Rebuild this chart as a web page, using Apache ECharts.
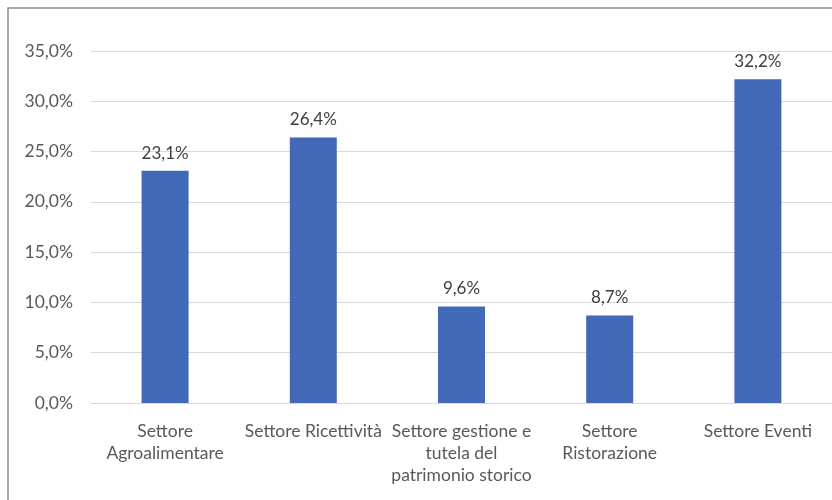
<!DOCTYPE html>
<html><head><meta charset="utf-8">
<script src="https://cdn.jsdelivr.net/npm/echarts@6/dist/echarts.min.js"></script>
<style>html,body{margin:0;padding:0;background:#fff}#c{width:832px;height:500px}</style>
</head><body><div id="c"></div>
<script>
const categories = ["Settore\nAgroalimentare", "Settore Ricettività", "Settore gestione e\ntutela del\npatrimonio storico", "Settore\nRistorazione", "Settore Eventi"];
const values = [23.1, 26.4, 9.6, 8.7, 32.2];
const yMin = 0, yMax = 35, yStep = 5;
const fmt = v => v.toFixed(1).replace('.', ',') + '%';
const FONT = 'Lato';
const chart = echarts.init(document.getElementById('c'), null, {renderer: 'canvas'});
chart.setOption({
  animation: false,
  textStyle: {fontFamily: FONT},
  graphic: [{type: 'rect', shape: {x: 8, y: 8, width: 900, height: 600}, style: {fill: 'none', stroke: '#8a8a8a', lineWidth: 1.5}, z: 100}],
  grid: {left: 91, right: -5, top: 51, bottom: 97},
  xAxis: {
    type: 'category', data: categories,
    axisLine: {lineStyle: {color: '#d9d9d9'}}, axisTick: {show: false},
    axisLabel: {color: '#595959', fontSize: 17.5, lineHeight: 22, margin: 17, interval: 0, fontFamily: FONT}
  },
  yAxis: {
    type: 'value', min: yMin, max: yMax, interval: yStep,
    axisLine: {show: false}, axisTick: {show: false},
    splitLine: {lineStyle: {color: '#d9d9d9'}},
    axisLabel: {color: '#595959', fontSize: 17.5, margin: 18, fontFamily: FONT, formatter: v => fmt(v)}
  },
  series: [{
    type: 'bar', data: values, barWidth: 47,
    itemStyle: {color: '#4169b8'},
    label: {show: true, position: 'top', distance: 9, color: '#404040', fontSize: 17, fontFamily: FONT, formatter: p => fmt(p.value)}
  }]
});
</script></body></html>
